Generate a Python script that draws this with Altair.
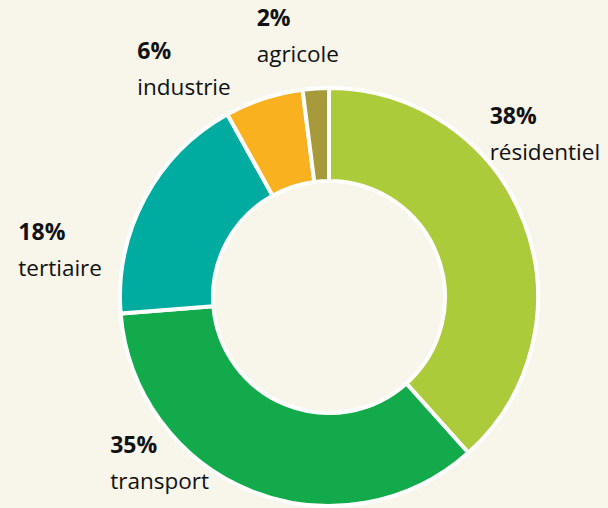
import math
import altair as alt
import pandas as pd

# ---- data ----
categories = ["résidentiel", "transport", "tertiaire", "industrie", "agricole"]
values = [38, 35, 18, 6, 2]
pct_labels = ["38%", "35%", "18%", "6%", "2%"]

# ---- style / layout ----
colors = ["#ACCB3A", "#12AA4A", "#00AC9F", "#F9B11F", "#A79A3A"]
label_shift_deg = [-24.3, 30.9, -19.8, -22.0, -11.9]
label_radius = [228, 275, 314, 297, 270]
FONT = "Open Sans"

df = pd.DataFrame({"cat": categories, "value": values, "pct": pct_labels,
                   "order": list(range(len(categories)))})

total = sum(values)
cum = 0
angles = []
for v in values:
    mid = (cum + v / 2) / total * 360
    angles.append(mid)
    cum += v
df["lab_theta"] = [math.radians(a + s) for a, s in zip(angles, label_shift_deg)]
df["lab_r"] = label_radius

base = alt.Chart(df)

arcs = base.mark_arc(innerRadius=116, outerRadius=209, stroke="white",
                     strokeWidth=4).encode(
    theta=alt.Theta("value:Q", stack=True),
    color=alt.Color("cat:N", scale=alt.Scale(domain=categories, range=colors),
                    legend=None),
    order=alt.Order("order:Q"),
)

pct = base.mark_text(font=FONT, fontSize=23, fontWeight="bold", align="left",
                     baseline="middle", dy=-18, color="#111111").encode(
    theta=alt.Theta("lab_theta:Q", scale=None),
    radius=alt.Radius("lab_r:Q", scale=None),
    text="pct:N",
)

names = base.mark_text(font=FONT, fontSize=22.5, align="left",
                       baseline="middle", dy=18, color="#111111").encode(
    theta=alt.Theta("lab_theta:Q", scale=None),
    radius=alt.Radius("lab_r:Q", scale=None),
    text="cat:N",
)

chart = alt.layer(arcs, pct, names).properties(
    width=558, height=422,
    autosize=alt.AutoSizeParams(type="none"),
    padding={"left": 50, "top": 86, "right": 0, "bottom": 0},
    background="#F8F5EA",
).configure_view(stroke=None)

chart.save("out.html", embed_options={"renderer": "svg", "actions": False})
